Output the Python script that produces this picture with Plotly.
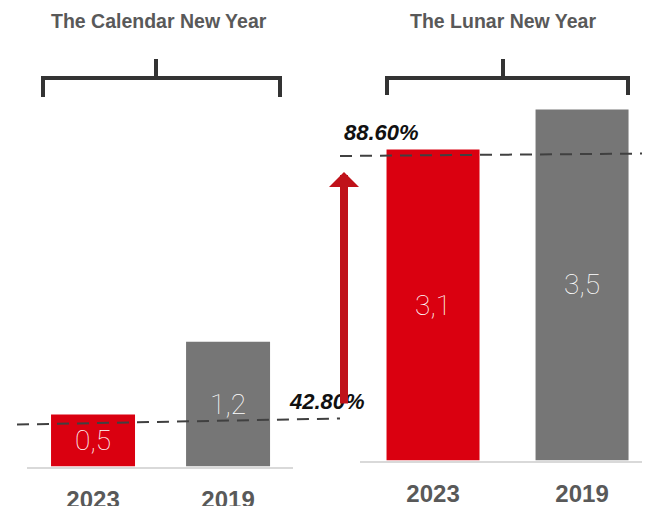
import plotly.graph_objects as go

periods = ["The Calendar New Year", "The Lunar New Year"]
years = ["2023", "2019"]
calendar_values = [0.5, 1.2]
lunar_values = [3.1, 3.5]
ratio_labels = ["42.80%", "88.60%"]
bar_colors = ["#DA0010", "#767676"]

# page has an 8px body margin: figure is drawn 8px in from the top-left corner
OFF = 8
W, H = 650 - OFF, 506 - OFF
def px(x):
    return (x - OFF) / W
def py(y):
    return (H - (y - OFF)) / H

barfont = dict(color="white", size=28, family="Roboto", weight=100)
fig = go.Figure()
fig.add_trace(go.Bar(x=years, y=calendar_values, xaxis="x", yaxis="y",
                     marker=dict(color=bar_colors, line=dict(width=0)),
                     texttemplate="%{y:.1f}", textposition="inside",
                     insidetextanchor="middle", textangle=0, constraintext="none",
                     textfont=barfont,
                     width=0.622, showlegend=False, hoverinfo="skip"))
fig.add_trace(go.Bar(x=years, y=lunar_values, xaxis="x2", yaxis="y2",
                     marker=dict(color=bar_colors, line=dict(width=0)),
                     texttemplate="%{y:.1f}", textposition="inside",
                     insidetextanchor="middle", textangle=0, constraintext="none",
                     textfont=barfont,
                     width=0.624, showlegend=False, hoverinfo="skip"))

tickfont = dict(size=24, color="#595959", family="Liberation Sans", weight="bold")
fig.update_layout(
    width=W, height=H, margin=dict(l=0, r=0, t=0, b=0, autoexpand=False),
    paper_bgcolor="white", plot_bgcolor="white",
    separators=", ",
    xaxis=dict(domain=[px(27), px(293)], range=[-0.489, 1.481], type="category",
               anchor="y", showline=True, linecolor="#d9d9d9", linewidth=2,
               showgrid=False, ticks="outside", ticklen=11, tickcolor="rgba(0,0,0,0)",
               tickfont=tickfont, automargin=False, fixedrange=True),
    yaxis=dict(domain=[py(466.5), 1], range=[0, 458.5 / 104], visible=False,
               automargin=False, fixedrange=True),
    xaxis2=dict(domain=[px(360), 1], range=[-0.490, 1.456], type="category",
                anchor="y2", showline=True, linecolor="#d9d9d9", linewidth=2,
                showgrid=False, ticks="outside", ticklen=11, tickcolor="rgba(0,0,0,0)",
                tickfont=tickfont, automargin=False, fixedrange=True),
    yaxis2=dict(domain=[py(460.5), 1], range=[0, 452.5 / 100.3], visible=False,
                automargin=False, fixedrange=True),
)

shapes = []
bracket = dict(color="#333333", width=4)
shapes.append(dict(type="path", xref="paper", yref="paper",
                   path=f"M {px(43)},{py(97)} L {px(43)},{py(78)} L {px(280)},{py(78)} L {px(280)},{py(97)}",
                   line=bracket))
shapes.append(dict(type="line", xref="paper", yref="paper", x0=px(156), x1=px(156),
                   y0=py(59), y1=py(78), line=bracket))
shapes.append(dict(type="path", xref="paper", yref="paper",
                   path=f"M {px(387)},{py(95)} L {px(387)},{py(78)} L {px(628)},{py(78)} L {px(628)},{py(95)}",
                   line=bracket))
shapes.append(dict(type="line", xref="paper", yref="paper", x0=px(503), x1=px(503),
                   y0=py(59), y1=py(78), line=bracket))
dash = dict(color="#404040", width=2, dash="12px,8px")
shapes.append(dict(type="line", xref="paper", yref="paper", x0=px(17), y0=py(424.5),
                   x1=px(340), y1=py(418.5), line=dash))
shapes.append(dict(type="line", xref="paper", yref="paper", x0=px(340), y0=py(156),
                   x1=px(650), y1=py(153.5), line=dash))
fig.update_layout(shapes=shapes)

annotations = []
titlefont = dict(size=19.5, color="#595959", family="Liberation Sans", weight="bold")
annotations.append(dict(text=periods[0], x=px(159), y=py(21), xref="paper", yref="paper",
                        showarrow=False, font=titlefont, xanchor="center", yanchor="middle"))
annotations.append(dict(text=periods[1], x=px(503), y=py(21), xref="paper", yref="paper",
                        showarrow=False, font=titlefont, xanchor="center", yanchor="middle"))
pctfont = dict(size=22, color="#111111", family="Liberation Sans", weight="bold", style="italic")
annotations.append(dict(text=ratio_labels[0], x=px(327), y=py(401), xref="paper", yref="paper",
                        showarrow=False, font=pctfont, xanchor="center", yanchor="middle"))
annotations.append(dict(text=ratio_labels[1], x=px(381), y=py(132), xref="paper", yref="paper",
                        showarrow=False, font=pctfont, xanchor="center", yanchor="middle"))
annotations.append(dict(text="", x=px(344), y=py(172), xref="paper", yref="paper",
                        ax=0, ay=233, showarrow=True, arrowhead=1, arrowwidth=8,
                        arrowsize=0.625, arrowcolor="#C0121A"))
fig.update_layout(annotations=annotations)

fig.write_html("out.html", config={"displayModeBar": False})
